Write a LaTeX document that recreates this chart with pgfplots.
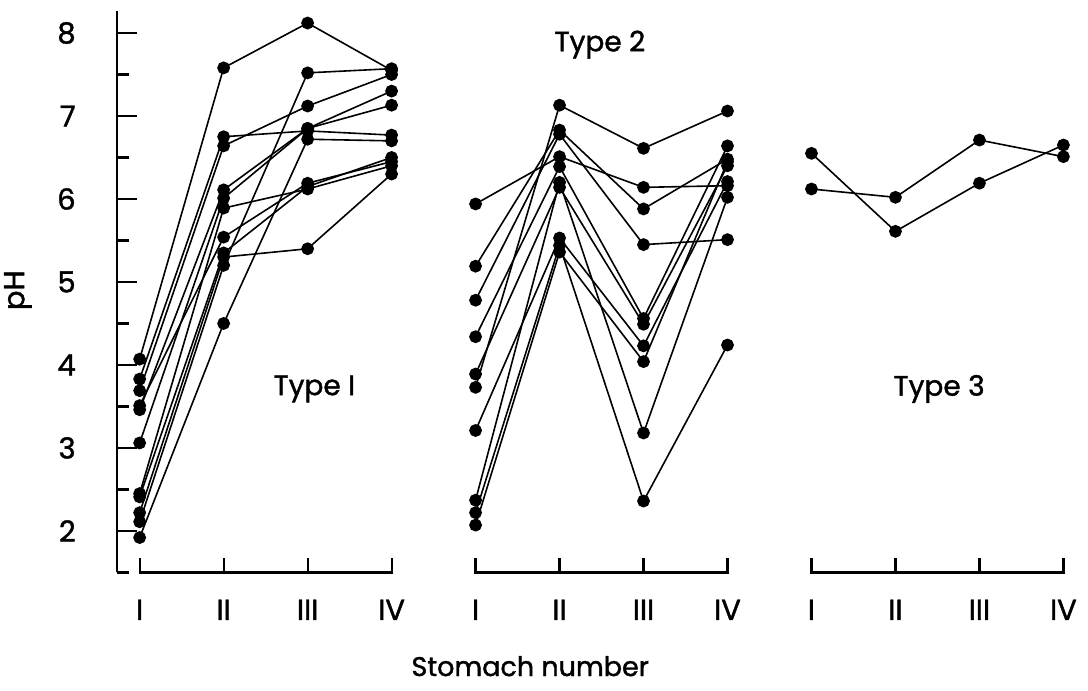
\documentclass[border=0pt]{standalone}
\usepackage{fontspec}
\setmainfont{Poppins}[BoldFont=Poppins, BoldFeatures={FakeBold=1.4}]
\usepackage{pgfplots}
\pgfplotsset{compat=1.18}
\begin{document}
\fontsize{14}{16}\selectfont
\begin{tikzpicture}[x=1pt,y=1pt]
\begin{axis}[
  at={(0,0)}, anchor=south west,
  scale only axis, width=479.5pt, height=280.9pt,
  xmin=-0.27, xmax=11.15, ymin=1.5, ymax=8.27,
  clip=false,
  axis lines*=left,
  x axis line style={draw=none},
  y axis line style={line width=1.1pt},
  tick align=inside,
  ytick={2,3,4,5,6,7,8},
  minor ytick={1.5,2.5,3.5,4.5,5.5,6.5,7.5},
  major tick length=10pt, minor tick length=6pt,
  every tick/.style={black, line width=1.1pt},
  xtick={0,1,2,3,4,5,6,7,8,9,10,11},
  xticklabels={I,II,III,IV,I,II,III,IV,I,II,III,IV},
  major x tick style={draw=none},
  /pgf/number format/assume math mode=true,
  tick label style={font=\fontsize{14.5}{17}\selectfont\bfseries},
  xticklabel shift=8.8pt,
  yticklabel shift=15.8pt,
  every axis plot post/.append style={black, solid, line width=0.8pt, mark=*, mark size=2.8pt, mark options={solid, fill=black, draw=black}},
]
% Type 1
\addplot coordinates {(0,4.07) (1,7.58) (2,8.12) (3,7.55)};
\addplot coordinates {(0,3.83) (1,6.75) (2,6.82) (3,6.77)};
\addplot coordinates {(0,3.69) (1,6.64) (2,7.12) (3,7.50)};
\addplot coordinates {(0,3.51) (1,5.54) (2,6.19) (3,6.45)};
\addplot coordinates {(0,3.46) (1,6.11) (2,6.85) (3,7.30)};
\addplot coordinates {(0,3.06) (1,6.01) (2,6.85) (3,7.13)};
\addplot coordinates {(0,2.45) (1,5.89) (2,6.12) (3,6.40)};
\addplot coordinates {(0,2.41) (1,5.35) (2,6.15) (3,6.50)};
\addplot coordinates {(0,2.22) (1,5.30) (2,5.40) (3,6.30)};
\addplot coordinates {(0,2.11) (1,5.20) (2,7.52) (3,7.57)};
\addplot coordinates {(0,1.92) (1,4.50) (2,6.72) (3,6.70)};
% Type 2
\addplot coordinates {(4,3.73) (5,7.13) (6,6.61) (7,7.06)};
\addplot coordinates {(4,5.94) (5,6.51) (6,6.14) (7,6.16)};
\addplot coordinates {(4,5.19) (5,6.83) (6,5.88) (7,6.48)};
\addplot coordinates {(4,4.78) (5,6.78) (6,5.45) (7,5.51)};
\addplot coordinates {(4,4.34) (5,6.39) (6,4.56) (7,6.64)};
\addplot coordinates {(4,3.89) (5,6.14) (6,4.49) (7,6.40)};
\addplot coordinates {(4,3.21) (5,5.53) (6,4.23) (7,6.21)};
\addplot coordinates {(4,2.37) (5,6.20) (6,3.18) (7,6.02)};
\addplot coordinates {(4,2.22) (5,5.44) (6,2.36) (7,4.24)};
\addplot coordinates {(4,2.07) (5,5.36) (6,4.04) (7,6.45)};
% Type 3
\addplot coordinates {(8,6.55) (9,5.61) (10,6.19) (11,6.65)};
\addplot coordinates {(8,6.12) (9,6.02) (10,6.71) (11,6.51)};
% brackets
\draw[line width=1.1pt] (axis cs:0,1.67) -- (axis cs:0,1.5) -- (axis cs:3,1.5) -- (axis cs:3,1.67);
\draw[line width=1.1pt] (axis cs:1,1.5) -- (axis cs:1,1.67) (axis cs:2,1.5) -- (axis cs:2,1.67);
\draw[line width=1.1pt] (axis cs:4,1.67) -- (axis cs:4,1.5) -- (axis cs:7,1.5) -- (axis cs:7,1.67);
\draw[line width=1.1pt] (axis cs:5,1.5) -- (axis cs:5,1.67) (axis cs:6,1.5) -- (axis cs:6,1.67);
\draw[line width=1.1pt] (axis cs:8,1.67) -- (axis cs:8,1.5) -- (axis cs:11,1.5) -- (axis cs:11,1.67);
\draw[line width=1.1pt] (axis cs:9,1.5) -- (axis cs:9,1.67) (axis cs:10,1.5) -- (axis cs:10,1.67);
% texts
\node[font=\fontsize{14}{17}\selectfont\bfseries] at (axis cs:5.48,7.86) {Type 2};
\node[font=\fontsize{14}{17}\selectfont\bfseries] at (axis cs:2.08,3.71) {Type I};
\node[font=\fontsize{14}{17}\selectfont\bfseries] at (axis cs:9.52,3.71) {Type 3};
\node[font=\fontsize{13.5}{17}\selectfont\bfseries] at (axis cs:4.65,0.37) {Stomach number};
\node[font=\fontsize{14.5}{17}\selectfont\bfseries, rotate=90] at (axis cs:-1.45,4.9) {pH};
\end{axis}
\pgfresetboundingbox
\useasboundingbox (-58.5,-59.3) rectangle (485.5,286.2);
\end{tikzpicture}
\end{document}
